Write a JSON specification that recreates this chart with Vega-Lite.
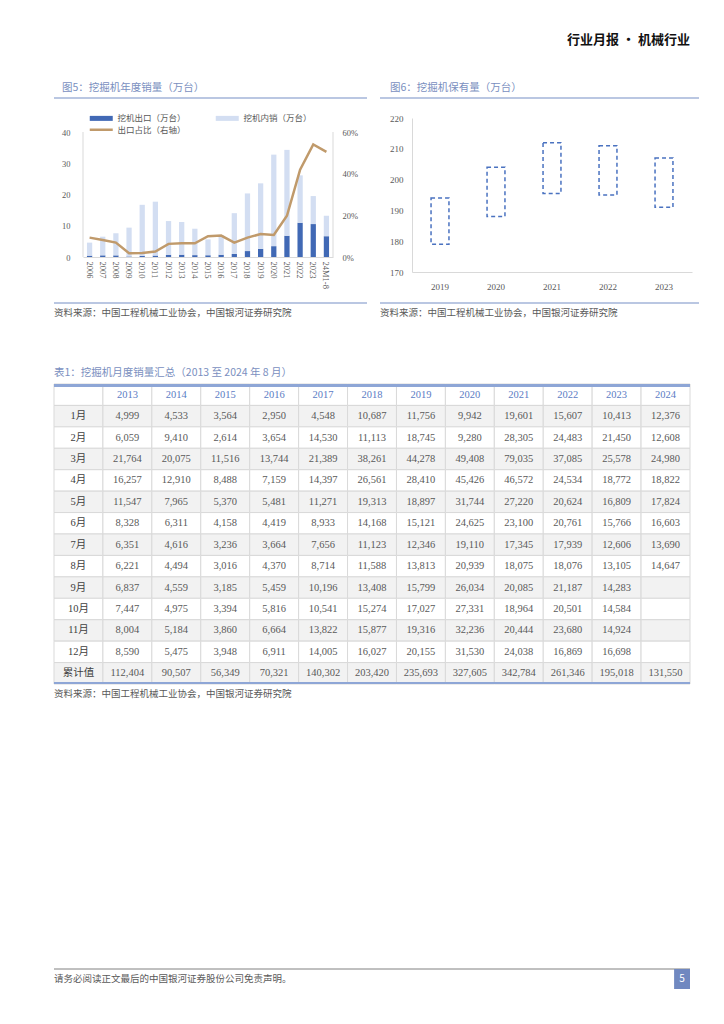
{
  "$schema": "https://vega.github.io/schema/vega-lite/v6.json",
  "background": "white",
  "padding": {"left": 52, "top": 28, "right": 0, "bottom": 0},
  "config": {
    "view": {"stroke": null},
    "font": "Noto Sans CJK SC",
    "axis": {"labelColor": "#595959", "domainColor": "#d9d9d9", "ticks": false, "grid": false, "title": null}
  },
  "datasets": {
    "sales": [
      {"year": "2006", "export": 0.43, "domestic": 4.17, "ratio": 0.093},
      {"year": "2007", "export": 0.53, "domestic": 5.97, "ratio": 0.082},
      {"year": "2008", "export": 0.52, "domestic": 7.08, "ratio": 0.069},
      {"year": "2009", "export": 0.17, "domestic": 9.23, "ratio": 0.018},
      {"year": "2010", "export": 0.32, "domestic": 16.38, "ratio": 0.019},
      {"year": "2011", "export": 0.46, "domestic": 17.24, "ratio": 0.026},
      {"year": "2012", "export": 0.72, "domestic": 10.78, "ratio": 0.063},
      {"year": "2013", "export": 0.74, "domestic": 10.46, "ratio": 0.066},
      {"year": "2014", "export": 0.6, "domestic": 8.45, "ratio": 0.066},
      {"year": "2015", "export": 0.56, "domestic": 5.07, "ratio": 0.1},
      {"year": "2016", "export": 0.72, "domestic": 6.31, "ratio": 0.103},
      {"year": "2017", "export": 0.97, "domestic": 13.06, "ratio": 0.069},
      {"year": "2018", "export": 1.9, "domestic": 18.44, "ratio": 0.093},
      {"year": "2019", "export": 2.6, "domestic": 20.97, "ratio": 0.11},
      {"year": "2020", "export": 3.47, "domestic": 29.29, "ratio": 0.106},
      {"year": "2021", "export": 6.8, "domestic": 27.48, "ratio": 0.198},
      {"year": "2022", "export": 10.95, "domestic": 15.18, "ratio": 0.419},
      {"year": "2023", "export": 10.54, "domestic": 8.96, "ratio": 0.54},
      {"year": "24M1-8", "export": 6.65, "domestic": 6.55, "ratio": 0.505}
    ],
    "stock": [
      {"year": "2019", "low": 179, "high": 194},
      {"year": "2020", "low": 188, "high": 204},
      {"year": "2021", "low": 195.5, "high": 212},
      {"year": "2022", "low": 195, "high": 211},
      {"year": "2023", "low": 191, "high": 207}
    ],
    "monthly": [
      {"row": "表头"},
      {"row": "1月", "2013": 4999, "2014": 4533, "2015": 3564, "2016": 2950, "2017": 4548, "2018": 10687, "2019": 11756, "2020": 9942, "2021": 19601, "2022": 15607, "2023": 10413, "2024": 12376},
      {"row": "2月", "2013": 6059, "2014": 9410, "2015": 2614, "2016": 3654, "2017": 14530, "2018": 11113, "2019": 18745, "2020": 9280, "2021": 28305, "2022": 24483, "2023": 21450, "2024": 12608},
      {"row": "3月", "2013": 21764, "2014": 20075, "2015": 11516, "2016": 13744, "2017": 21389, "2018": 38261, "2019": 44278, "2020": 49408, "2021": 79035, "2022": 37085, "2023": 25578, "2024": 24980},
      {"row": "4月", "2013": 16257, "2014": 12910, "2015": 8488, "2016": 7159, "2017": 14397, "2018": 26561, "2019": 28410, "2020": 45426, "2021": 46572, "2022": 24534, "2023": 18772, "2024": 18822},
      {"row": "5月", "2013": 11547, "2014": 7965, "2015": 5370, "2016": 5481, "2017": 11271, "2018": 19313, "2019": 18897, "2020": 31744, "2021": 27220, "2022": 20624, "2023": 16809, "2024": 17824},
      {"row": "6月", "2013": 8328, "2014": 6311, "2015": 4158, "2016": 4419, "2017": 8933, "2018": 14168, "2019": 15121, "2020": 24625, "2021": 23100, "2022": 20761, "2023": 15766, "2024": 16603},
      {"row": "7月", "2013": 6351, "2014": 4616, "2015": 3236, "2016": 3664, "2017": 7656, "2018": 11123, "2019": 12346, "2020": 19110, "2021": 17345, "2022": 17939, "2023": 12606, "2024": 13690},
      {"row": "8月", "2013": 6221, "2014": 4494, "2015": 3016, "2016": 4370, "2017": 8714, "2018": 11588, "2019": 13813, "2020": 20939, "2021": 18075, "2022": 18076, "2023": 13105, "2024": 14647},
      {"row": "9月", "2013": 6837, "2014": 4559, "2015": 3185, "2016": 5459, "2017": 10196, "2018": 13408, "2019": 15799, "2020": 26034, "2021": 20085, "2022": 21187, "2023": 14283},
      {"row": "10月", "2013": 7447, "2014": 4975, "2015": 3394, "2016": 5816, "2017": 10541, "2018": 15274, "2019": 17027, "2020": 27331, "2021": 18964, "2022": 20501, "2023": 14584},
      {"row": "11月", "2013": 8004, "2014": 5184, "2015": 3860, "2016": 6664, "2017": 13822, "2018": 15877, "2019": 19316, "2020": 32236, "2021": 20444, "2022": 23680, "2023": 14924},
      {"row": "12月", "2013": 8590, "2014": 5475, "2015": 3948, "2016": 6911, "2017": 14005, "2018": 16027, "2019": 20155, "2020": 31530, "2021": 24038, "2022": 16869, "2023": 16698},
      {"row": "累计值", "2013": 112404, "2014": 90507, "2015": 56349, "2016": 70321, "2017": 140302, "2018": 203420, "2019": 235693, "2020": 327605, "2021": 342784, "2022": 261346, "2023": 195018, "2024": 131550}
    ]
  },
  "spacing": 0,
  "resolve": {"scale": {"color": "independent"}, "legend": {"color": "independent"}},
  "vconcat": [
    {
      "width": 636, "height": 24,
      "data": {"values": [{}]},
      "mark": {"type": "text", "text": "行业月报 · 机械行业", "align": "right", "baseline": "middle", "fontSize": 13, "fontWeight": "bold", "color": "#111111"},
      "encoding": {
        "x": {"datum": 1, "type": "quantitative", "scale": {"domain": [0, 1]}, "axis": null},
        "y": {"datum": 0.5, "type": "quantitative", "scale": {"domain": [0, 1]}, "axis": null}
      }
    },
    {
      "columns": 4,
      "spacing": 0,
      "bounds": "flush",
      "align": "each",
      "resolve": {"scale": {"color": "independent"}, "legend": {"color": "independent"}},
      "concat": [
        {
          "width": 29, "height": 66,
          "data": {"values": [{}]},
          "layer": [
            {
              "mark": {"type": "rule", "color": "#a3b4d8", "strokeWidth": 1.5},
              "encoding": {"y": {"datum": 0.303, "type": "quantitative", "scale": {"domain": [0, 1]}, "axis": null}}
            },
            {
              "mark": {"type": "text", "text": "图5：挖掘机年度销量（万台）", "align": "left", "baseline": "middle", "fontSize": 10.5, "color": "#7a8fc0"},
              "encoding": {
                "x": {"datum": 0.2759, "type": "quantitative", "scale": {"domain": [0, 1]}, "axis": null},
                "y": {"datum": 0.4545, "type": "quantitative", "scale": {"domain": [0, 1]}, "axis": null}
              }
            }
          ]
        },
        {
          "width": 250, "height": 66,
          "data": {"values": [{}]},
          "mark": {"type": "rule", "color": "#a3b4d8", "strokeWidth": 1.5},
          "encoding": {"y": {"datum": 0.303, "type": "quantitative", "scale": {"domain": [0, 1]}, "axis": null}}
        },
        {
          "width": 79, "height": 66,
          "data": {"values": [{}]},
          "layer": [
            {
              "mark": {"type": "rule", "color": "#a3b4d8", "strokeWidth": 1.5},
              "encoding": {
                "x": {"datum": 0, "type": "quantitative", "scale": {"domain": [0, 1]}, "axis": null},
                "x2": {"datum": 0.4304},
                "y": {"datum": 0.303, "type": "quantitative", "scale": {"domain": [0, 1]}, "axis": null}
              }
            },
            {
              "mark": {"type": "rule", "color": "#a3b4d8", "strokeWidth": 1.5},
              "encoding": {
                "x": {"datum": 0.5949, "type": "quantitative", "scale": {"domain": [0, 1]}, "axis": null},
                "x2": {"datum": 1},
                "y": {"datum": 0.303, "type": "quantitative", "scale": {"domain": [0, 1]}, "axis": null}
              }
            },
            {
              "mark": {"type": "text", "text": "图6：挖掘机保有量（万台）", "align": "left", "baseline": "middle", "fontSize": 10.5, "color": "#7a8fc0"},
              "encoding": {
                "x": {"datum": 0.7215, "type": "quantitative", "scale": {"domain": [0, 1]}, "axis": null},
                "y": {"datum": 0.4545, "type": "quantitative", "scale": {"domain": [0, 1]}, "axis": null}
              }
            }
          ]
        },
        {
          "width": 287, "height": 66,
          "data": {"values": [{}]},
          "mark": {"type": "rule", "color": "#a3b4d8", "strokeWidth": 1.5},
          "encoding": {"y": {"datum": 0.303, "type": "quantitative", "scale": {"domain": [0, 1]}, "axis": null}}
        },

        {"width": 29, "height": 154, "data": {"values": []}, "mark": "point"},
        {
          "width": 250, "height": 154,
          "data": {"name": "sales"},
          "layer": [
            {
              "transform": [{"fold": ["export", "domestic"], "as": ["series", "value"]}],
              "mark": {"type": "bar", "width": {"band": 0.4}},
              "encoding": {
                "x": {"field": "year", "type": "ordinal", "sort": null, "scale": {"paddingInner": 0, "paddingOuter": 0}, "axis": {"labelAngle": 90, "labelPadding": 4, "labelFontSize": 8.5, "labelFont": "Liberation Serif", "offset": -15}},
                "y": {"field": "value", "type": "quantitative", "stack": "zero", "scale": {"domain": [-4.8, 44.48], "nice": false, "zero": false}, "axis": {"values": [0, 10, 20, 30, 40], "labelPadding": 13, "labelFontSize": 8.5, "labelFont": "Liberation Serif", "domain": false}},
                "color": {
                  "field": "series", "type": "nominal",
                  "scale": {"domain": ["export", "domestic", "ratio"], "range": ["#4169b5", "#d3def2", "#c09a6b"]},
                  "legend": {
                    "orient": "none", "legendX": 5, "legendY": -4, "columns": 2, "direction": "horizontal", "title": null,
                    "labelExpr": "datum.value == 'export' ? '挖机出口（万台）' : datum.value == 'domestic' ? '挖机内销（万台）' : '出口占比（右轴）'",
                    "labelFontSize": 8.5, "labelColor": "#595959",
                    "symbolSize": 25, "symbolOffset": 9, "labelOffset": 12,
                    "columnPadding": 28, "rowPadding": 1.5,
                    "encode": {
                      "symbols": {
                        "update": {
                          "shape": {"signal": "datum.value == 'ratio' ? 'M-4.6,0H4.6' : 'M-4.6,-1H4.6V1H-4.6Z'"},
                          "fill": {"signal": "datum.value == 'export' ? '#4169b5' : datum.value == 'domestic' ? '#d3def2' : 'transparent'"},
                          "stroke": {"signal": "datum.value == 'ratio' ? '#c09a6b' : 'transparent'"},
                          "strokeWidth": {"signal": "datum.value == 'ratio' ? 2.5 : 0"},
                          "opacity": {"value": 1}
                        }
                      }
                    }
                  }
                },
                "order": {"field": "series", "sort": "descending"}
              }
            },
            {
              "data": {"values": [{}]},
              "mark": {"type": "rule", "color": "#d9d9d9", "strokeWidth": 1},
              "encoding": {
                "x": {"datum": "2006", "type": "ordinal", "bandPosition": 0},
                "y": {"datum": 0, "type": "quantitative", "scale": {"domain": [-4.8, 44.48], "nice": false, "zero": false}, "axis": null},
                "y2": {"datum": 40}
              }
            },
            {
              "data": {"values": [{}]},
              "mark": {"type": "rule", "color": "#d9d9d9", "strokeWidth": 1},
              "encoding": {
                "x": {"datum": "24M1-8", "type": "ordinal", "bandPosition": 1},
                "y": {"datum": 0, "type": "quantitative", "scale": {"domain": [-4.8, 44.48], "nice": false, "zero": false}, "axis": null},
                "y2": {"datum": 40}
              }
            },
            {
              "mark": {"type": "line", "strokeWidth": 2.5},
              "encoding": {
                "x": {"field": "year", "type": "ordinal", "sort": null},
                "y": {"field": "ratio", "type": "quantitative", "scale": {"domain": [-0.072, 0.6672], "nice": false, "zero": false}, "axis": {"orient": "right", "values": [0, 0.2, 0.4, 0.6], "format": ".0%", "labelPadding": 9, "labelFontSize": 8.5, "labelFont": "Liberation Serif", "domain": false}},
                "color": {"datum": "ratio"}
              }
            }
          ],
          "resolve": {"scale": {"y": "independent"}}
        },
        {"width": 79, "height": 154, "data": {"values": []}, "mark": "point"},
        {
          "width": 280, "height": 154,
          "data": {"name": "stock"},
          "mark": {"type": "bar", "width": {"band": 0.32}, "fill": "transparent", "stroke": "#4a72c0", "strokeWidth": 1.5, "strokeDash": [4, 3]},
          "encoding": {
            "x": {"field": "year", "type": "ordinal", "scale": {"paddingInner": 0, "paddingOuter": 0}, "axis": {"labelAngle": 0, "labelPadding": 10, "labelFontSize": 9, "labelFont": "Liberation Serif"}},
            "y": {"field": "low", "type": "quantitative", "scale": {"domain": [170, 220], "zero": false}, "axis": {"values": [170, 180, 190, 200, 210, 220], "labelPadding": 9, "labelFontSize": 9, "labelFont": "Liberation Serif"}},
            "y2": {"field": "high"}
          }
        },

        {
          "width": 29, "height": 48,
          "data": {"values": [{}]},
          "layer": [
            {
              "mark": {"type": "rule", "color": "#a3b4d8", "strokeWidth": 1.5},
              "encoding": {"y": {"datum": 0.354, "type": "quantitative", "scale": {"domain": [0, 1]}, "axis": null}}
            },
            {
              "mark": {"type": "text", "text": "资料来源：中国工程机械工业协会，中国银河证券研究院", "align": "left", "baseline": "middle", "fontSize": 9.5, "color": "#595959"},
              "encoding": {
                "x": {"datum": 0, "type": "quantitative", "scale": {"domain": [0, 1]}, "axis": null},
                "y": {"datum": 0.146, "type": "quantitative", "scale": {"domain": [0, 1]}, "axis": null}
              }
            }
          ]
        },
        {
          "width": 250, "height": 48,
          "data": {"values": [{}]},
          "mark": {"type": "rule", "color": "#a3b4d8", "strokeWidth": 1.5},
          "encoding": {"y": {"datum": 0.354, "type": "quantitative", "scale": {"domain": [0, 1]}, "axis": null}}
        },
        {
          "width": 79, "height": 48,
          "data": {"values": [{}]},
          "layer": [
            {
              "mark": {"type": "rule", "color": "#a3b4d8", "strokeWidth": 1.5},
              "encoding": {
                "x": {"datum": 0, "type": "quantitative", "scale": {"domain": [0, 1]}, "axis": null},
                "x2": {"datum": 0.4304},
                "y": {"datum": 0.354, "type": "quantitative", "scale": {"domain": [0, 1]}, "axis": null}
              }
            },
            {
              "mark": {"type": "rule", "color": "#a3b4d8", "strokeWidth": 1.5},
              "encoding": {
                "x": {"datum": 0.5949, "type": "quantitative", "scale": {"domain": [0, 1]}, "axis": null},
                "x2": {"datum": 1},
                "y": {"datum": 0.354, "type": "quantitative", "scale": {"domain": [0, 1]}, "axis": null}
              }
            },
            {
              "mark": {"type": "text", "text": "资料来源：中国工程机械工业协会，中国银河证券研究院", "align": "left", "baseline": "middle", "fontSize": 9.5, "color": "#595959"},
              "encoding": {
                "x": {"datum": 0.5949, "type": "quantitative", "scale": {"domain": [0, 1]}, "axis": null},
                "y": {"datum": 0.146, "type": "quantitative", "scale": {"domain": [0, 1]}, "axis": null}
              }
            }
          ]
        },
        {
          "width": 287, "height": 48,
          "data": {"values": [{}]},
          "mark": {"type": "rule", "color": "#a3b4d8", "strokeWidth": 1.5},
          "encoding": {"y": {"datum": 0.354, "type": "quantitative", "scale": {"domain": [0, 1]}, "axis": null}}
        }
      ]
    },
    {
      "width": 636, "height": 63,
      "data": {"values": [{}]},
      "mark": {"type": "text", "text": "表1：挖掘机月度销量汇总（2013 至 2024 年 8 月）", "align": "left", "baseline": "middle", "fontSize": 10.5, "color": "#7a8fc0"},
      "encoding": {
        "x": {"datum": 0, "type": "quantitative", "scale": {"domain": [0, 1]}, "axis": null},
        "y": {"datum": 0.16, "type": "quantitative", "scale": {"domain": [0, 1]}, "axis": null}
      }
    },
    {
      "width": 636, "height": 300,
      "data": {"name": "monthly"},
      "transform": [{"fold": ["row", "2013", "2014", "2015", "2016", "2017", "2018", "2019", "2020", "2021", "2022", "2023", "2024"], "as": ["col", "val"]}],
      "layer": [
        {
          "mark": {"type": "rect", "stroke": "#d9d9d9", "strokeWidth": 1},
          "encoding": {
            "x": {"field": "col", "type": "nominal", "scale": {"domain": ["row", "2013", "2014", "2015", "2016", "2017", "2018", "2019", "2020", "2021", "2022", "2023", "2024"], "paddingInner": 0, "paddingOuter": 0}, "axis": null},
            "y": {"field": "row", "type": "nominal", "scale": {"domain": ["表头", "1月", "2月", "3月", "4月", "5月", "6月", "7月", "8月", "9月", "10月", "11月", "12月", "累计值"], "paddingInner": 0, "paddingOuter": 0}, "axis": null},
            "fill": {"field": "row", "type": "nominal", "scale": {"domain": ["表头", "1月", "2月", "3月", "4月", "5月", "6月", "7月", "8月", "9月", "10月", "11月", "12月", "累计值"], "range": ["#ffffff", "#f2f2f2", "#ffffff", "#f2f2f2", "#ffffff", "#f2f2f2", "#ffffff", "#f2f2f2", "#ffffff", "#f2f2f2", "#ffffff", "#f2f2f2", "#ffffff", "#f2f2f2"]}, "legend": null}
          }
        },
        {
          "transform": [{"filter": "datum.row == '表头' && datum.col != 'row'"}],
          "mark": {"type": "text", "fontSize": 10.5, "font": "Liberation Serif", "color": "#5b7cc4"},
          "encoding": {
            "x": {"field": "col", "type": "nominal"},
            "y": {"field": "row", "type": "nominal", "scale": {"domain": ["表头", "1月", "2月", "3月", "4月", "5月", "6月", "7月", "8月", "9月", "10月", "11月", "12月", "累计值"], "paddingInner": 0, "paddingOuter": 0}, "axis": null},
            "text": {"field": "col"}
          }
        },
        {
          "transform": [{"filter": "datum.col == 'row' && datum.row != '表头'"}],
          "mark": {"type": "text", "fontSize": 10.5, "font": "Liberation Serif, Noto Sans CJK SC", "color": "#404040"},
          "encoding": {
            "x": {"field": "col", "type": "nominal"},
            "y": {"field": "row", "type": "nominal", "scale": {"domain": ["表头", "1月", "2月", "3月", "4月", "5月", "6月", "7月", "8月", "9月", "10月", "11月", "12月", "累计值"], "paddingInner": 0, "paddingOuter": 0}, "axis": null},
            "text": {"field": "row"}
          }
        },
        {
          "transform": [{"filter": "datum.col != 'row' && datum.row != '表头' && isValid(datum.val)"}],
          "mark": {"type": "text", "fontSize": 10.5, "font": "Liberation Serif", "color": "#595959"},
          "encoding": {
            "x": {"field": "col", "type": "nominal"},
            "y": {"field": "row", "type": "nominal", "scale": {"domain": ["表头", "1月", "2月", "3月", "4月", "5月", "6月", "7月", "8月", "9月", "10月", "11月", "12月", "累计值"], "paddingInner": 0, "paddingOuter": 0}, "axis": null},
            "text": {"field": "val", "type": "quantitative", "format": ","}
          }
        },
        {
          "mark": {"type": "rule", "color": "#8ea6d6", "strokeWidth": 2.5},
          "encoding": {"y": {"datum": 0.9958, "type": "quantitative", "scale": {"domain": [0, 1]}, "axis": null}}
        },
        {
          "mark": {"type": "rule", "color": "#8ea6d6", "strokeWidth": 2},
          "encoding": {"y": {"datum": 0.0034, "type": "quantitative", "scale": {"domain": [0, 1]}, "axis": null}}
        }
      ],
      "resolve": {"scale": {"y": "independent"}}
    },
    {
      "width": 636, "height": 14,
      "data": {"values": [{}]},
      "mark": {"type": "text", "text": "资料来源：中国工程机械工业协会，中国银河证券研究院", "align": "left", "baseline": "middle", "fontSize": 9.5, "color": "#595959"},
      "encoding": {
        "x": {"datum": 0, "type": "quantitative", "scale": {"domain": [0, 1]}, "axis": null},
        "y": {"datum": 0.36, "type": "quantitative", "scale": {"domain": [0, 1]}, "axis": null}
      }
    },
    {
      "width": 636, "height": 300,
      "data": {"values": [{}]},
      "layer": [
        {
          "mark": {"type": "rule", "color": "#808080", "strokeWidth": 1},
          "encoding": {"y": {"datum": 0.1, "type": "quantitative", "scale": {"domain": [0, 1]}, "axis": null}}
        },
        {
          "mark": {"type": "text", "text": "请务必阅读正文最后的中国银河证券股份公司免责声明。", "align": "left", "baseline": "middle", "fontSize": 9.5, "color": "#595959"},
          "encoding": {
            "x": {"datum": 0, "type": "quantitative", "scale": {"domain": [0, 1]}, "axis": null},
            "y": {"datum": 0.0667, "type": "quantitative", "scale": {"domain": [0, 1]}, "axis": null}
          }
        },
        {
          "mark": {"type": "rect", "color": "#7088c0"},
          "encoding": {
            "x": {"datum": 0.975, "type": "quantitative", "scale": {"domain": [0, 1]}, "axis": null},
            "x2": {"datum": 1},
            "y": {"datum": 0.1, "type": "quantitative", "scale": {"domain": [0, 1]}, "axis": null},
            "y2": {"datum": 0.0333}
          }
        },
        {
          "mark": {"type": "text", "text": "5", "align": "center", "baseline": "middle", "fontSize": 10, "color": "#ffffff"},
          "encoding": {
            "x": {"datum": 0.9874, "type": "quantitative", "scale": {"domain": [0, 1]}, "axis": null},
            "y": {"datum": 0.0667, "type": "quantitative", "scale": {"domain": [0, 1]}, "axis": null}
          }
        }
      ]
    }
  ]
}
